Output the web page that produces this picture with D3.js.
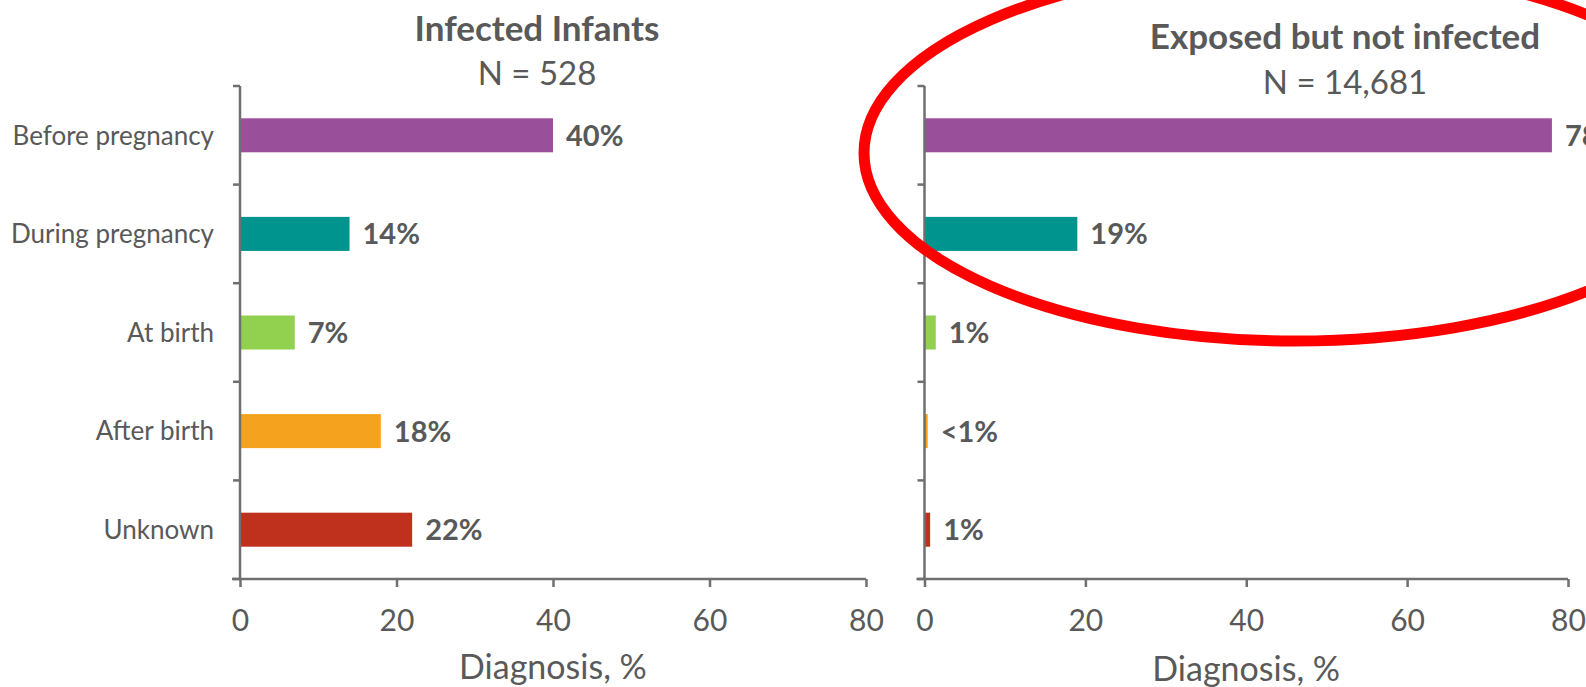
<!DOCTYPE html>
<html>
<head>
<meta charset="utf-8">
<script src="https://cdn.jsdelivr.net/npm/d3@7"></script>
<style>
  html, body { margin: 0; padding: 0; background: #fff; }
  svg { display: block; font-family: Lato, "Open Sans", sans-serif; }
</style>
</head>
<body>
<svg id="chart" width="1586" height="687"></svg>
<script>
// Timing of maternal HIV diagnosis, by infant outcome
const categories = ["Before pregnancy", "During pregnancy", "At birth", "After birth", "Unknown"];
const infectedPct = [40, 14, 7, 18, 22];
const exposedPct = [78, 19, 1.4, 0.4, 0.7];
const barColors = ["#9a4f9a", "#00948f", "#92d050", "#f5a31f", "#bf311d"];
const xTicks = [0, 20, 40, 60, 80];
const panelTitles = ["Infected Infants", "Exposed but not infected"];
const panelCounts = ["N = 528", "N = 14,681"];
const axisTitle = "Diagnosis, %";

const textColor = "#595959";
const axisColor = "#6f6f6f";

const svg = d3.select("#chart");

const panels = [
  { values: infectedPct, x0: 240, x1: 866, titleX: 537, titleY: 41, countY: 85, axisTitleY: 679, showCats: true },
  { values: exposedPct, x0: 924.5, x1: 1568, titleX: 1345, titleY: 49, countY: 94, axisTitleY: 681, showCats: false }
];

const yTop = 86, yBottom = 579;
const y = d3.scaleBand().domain(categories).range([yTop, yBottom]).padding(0);
const barH = y.bandwidth() * 0.345;

// values under one half are shown as "<1%", the rest rounded to whole percents
const fmt = v => v < 0.5 ? "<1%" : Math.round(v) + "%";

panels.forEach((p, pi) => {
  const x = d3.scaleLinear().domain([0, 80]).range([p.x0, p.x1]);
  const g = svg.append("g");

  // bars
  g.selectAll("rect.bar")
    .data(categories)
    .join("rect")
    .attr("class", "bar")
    .attr("x", x(0))
    .attr("y", c => y(c) + (y.bandwidth() - barH) / 2)
    .attr("width", (c, i) => x(p.values[i]) - x(0))
    .attr("height", barH)
    .attr("fill", (c, i) => barColors[i]);

  // value labels
  g.selectAll("text.val")
    .data(categories)
    .join("text")
    .attr("class", "val")
    .attr("x", (c, i) => x(p.values[i]) + 13)
    .attr("y", c => y(c) + y.bandwidth() / 2)
    .attr("dy", "0.36em")
    .attr("fill", textColor)
    .attr("font-size", 29)
    .attr("font-weight", 700)
    .text((c, i) => fmt(p.values[i]));

  // vertical axis with ticks at category boundaries
  g.append("line")
    .attr("x1", x(0)).attr("x2", x(0))
    .attr("y1", yTop).attr("y2", yBottom)
    .attr("stroke", axisColor).attr("stroke-width", 2.5);
  const bounds = categories.map(c => y(c)).concat([yBottom]);
  g.selectAll("line.ytick")
    .data(bounds)
    .join("line")
    .attr("class", "ytick")
    .attr("x1", x(0) - 7).attr("x2", x(0))
    .attr("y1", d => d).attr("y2", d => d)
    .attr("stroke", axisColor).attr("stroke-width", 2.5);

  // horizontal axis
  const xAxis = d3.axisBottom(x).tickValues(xTicks).tickSize(8).tickSizeOuter(0);
  const ax = g.append("g")
    .attr("transform", `translate(0,${yBottom})`)
    .call(xAxis);
  ax.select(".domain").remove();
  ax.append("line")
    .attr("x1", x(0) - 8).attr("x2", x(80))
    .attr("stroke", axisColor).attr("stroke-width", 2.5);
  ax.selectAll(".tick line").attr("stroke", axisColor).attr("stroke-width", 2.5);
  ax.selectAll(".tick text")
    .attr("y", 631 - yBottom)
    .attr("dy", null)
    .attr("fill", textColor)
    .attr("font-size", 30)
    .attr("font-family", "Lato, 'Open Sans', sans-serif");

  // axis title
  g.append("text")
    .attr("x", (p.x0 + p.x1) / 2)
    .attr("y", p.axisTitleY)
    .attr("text-anchor", "middle")
    .attr("fill", textColor)
    .attr("font-size", 34)
    .text(axisTitle);

  // panel title and count
  g.append("text")
    .attr("x", p.titleX).attr("y", p.titleY)
    .attr("text-anchor", "middle")
    .attr("fill", textColor)
    .attr("font-size", 35)
    .attr("font-weight", 700)
    .text(panelTitles[pi]);
  g.append("text")
    .attr("x", p.titleX).attr("y", p.countY)
    .attr("text-anchor", "middle")
    .attr("fill", textColor)
    .attr("font-size", 33)
    .text(panelCounts[pi]);

  // category labels
  if (p.showCats) {
    g.selectAll("text.cat")
      .data(categories)
      .join("text")
      .attr("class", "cat")
      .attr("x", 214)
      .attr("y", c => y(c) + y.bandwidth() / 2)
      .attr("dy", "0.36em")
      .attr("text-anchor", "end")
      .attr("fill", textColor)
      .attr("font-size", 26)
      .text(c => c);
  }
});

// highlight ring around the top of the exposed-but-not-infected panel
svg.append("ellipse")
  .attr("cx", 1295).attr("cy", 153)
  .attr("rx", 431).attr("ry", 188)
  .attr("fill", "none")
  .attr("stroke", "#ff0000")
  .attr("stroke-width", 11);
</script>
</body>
</html>
